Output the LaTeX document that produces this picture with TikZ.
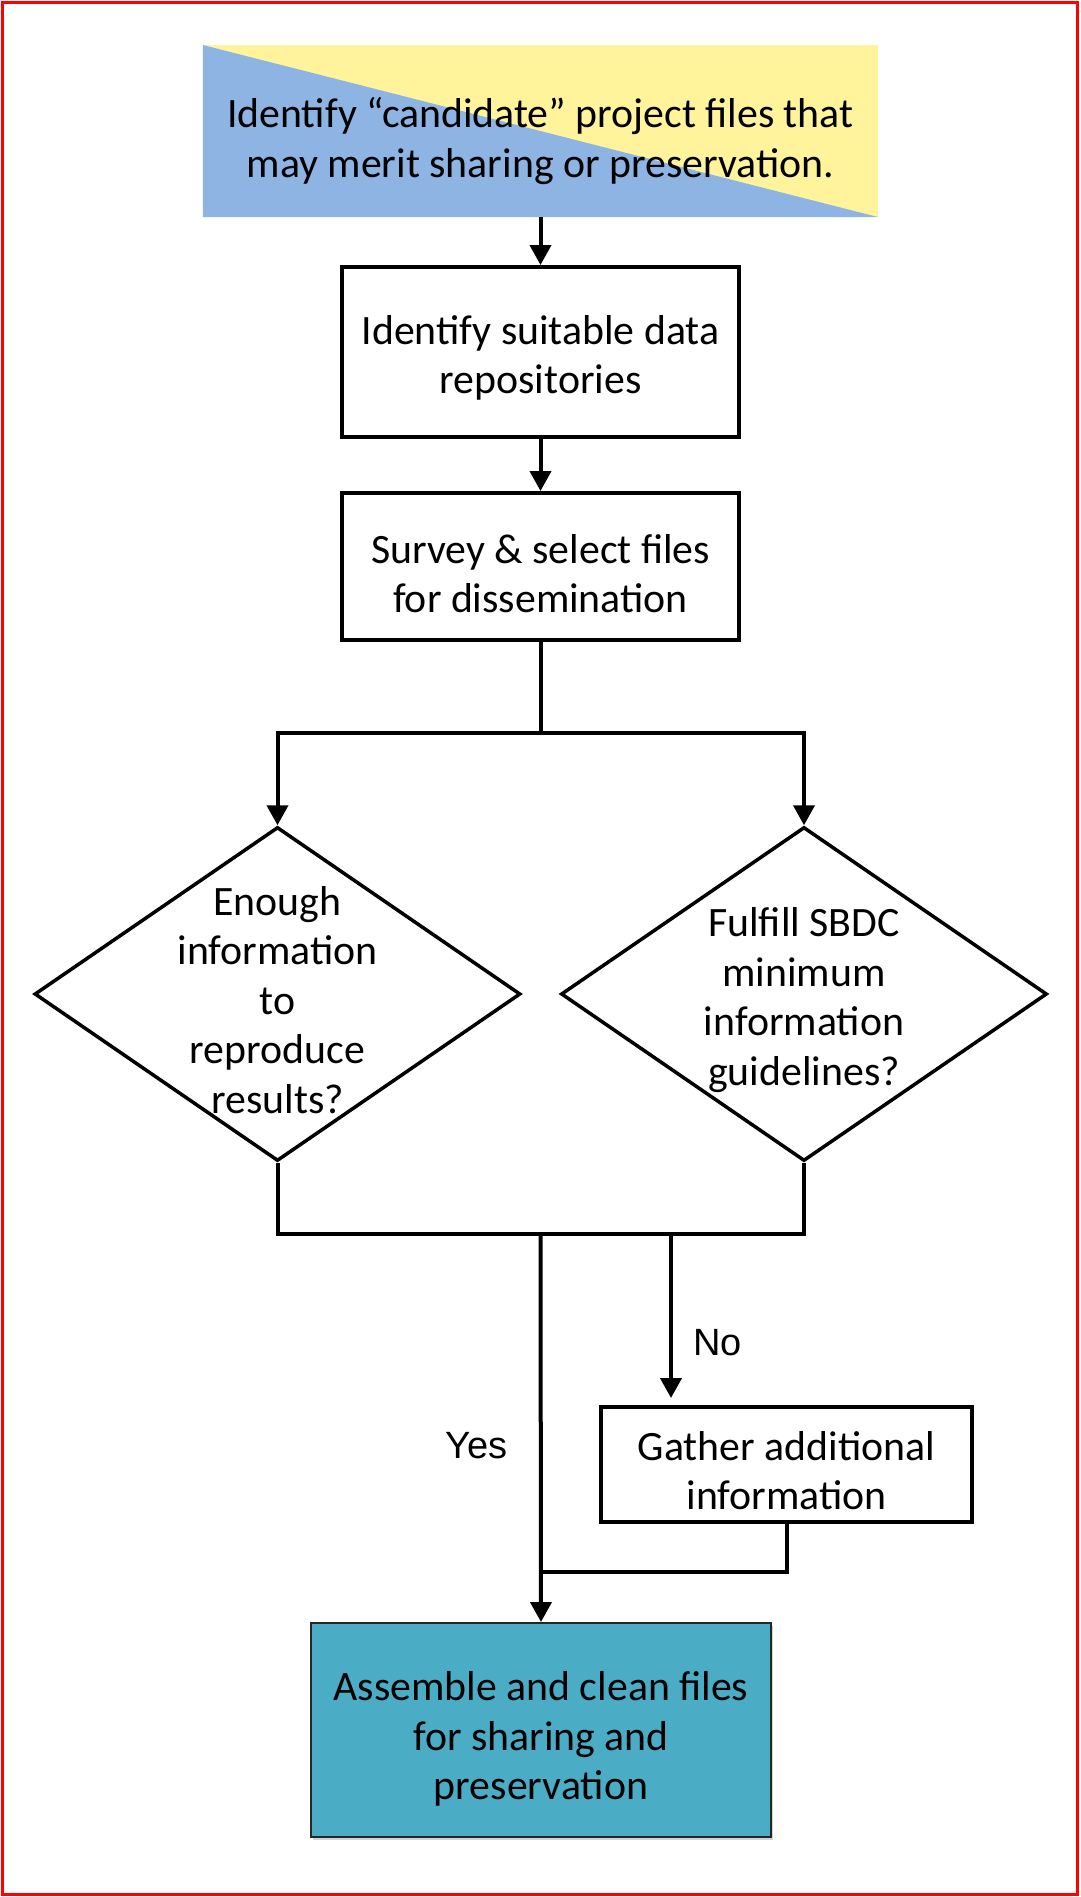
\documentclass[tikz,border=0pt]{standalone}
\usepackage{fontspec}
\setmainfont{Carlito}
\newfontfamily\arialfont{Liberation Sans}
\usetikzlibrary{arrows.meta,shapes.geometric,shadows}
\definecolor{topyellow}{RGB}{255,243,155}
\definecolor{topblue}{RGB}{141,180,226}
\definecolor{asmteal}{RGB}{75,172,198}
\begin{document}
\begin{tikzpicture}[x=1pt,y=-1pt,
  txt/.style={font=\fontsize{41.8}{49.5}\selectfont, align=center, inner sep=0pt},
  box/.style={draw=black, line width=4pt, rectangle, inner sep=0pt},
  dec/.style={draw=black, line width=3.5pt, diamond, inner sep=0pt},
  conn/.style={line width=4pt, draw=black},
  arr/.style={conn, -{Triangle[length=20pt,width=21pt]}},
  lab/.style={font=\arialfont\fontsize{38}{44}\selectfont}
]
\useasboundingbox (0,0) rectangle (1080,1897);
\draw[red, line width=3pt] (2.5,2.5) rectangle (1077.5,1894.5);

\node[minimum width=675pt, minimum height=172pt, inner sep=0pt,
  path picture={
    \fill[topyellow] (path picture bounding box.south west) rectangle (path picture bounding box.north east);
    \fill[topblue] (path picture bounding box.north west) -- (path picture bounding box.south west) -- (path picture bounding box.south east) -- cycle;
  }] (top) at (540.3,131) {};
\node[txt] (topt) at ([yshift=-10pt]top.center) {Identify “candidate” project files that\\may merit sharing or preservation.};

\node[box, minimum width=397pt, minimum height=170pt] (b2) at (540.5,352) {};
\node[txt] (b2t) at ([yshift=-6pt]b2.center) {Identify suitable data\\repositories};
\node[box, minimum width=397pt, minimum height=147pt] (b3) at (540.5,566.5) {};
\node[txt] (b3t) at ([yshift=-7pt]b3.center) {Survey \& select files\\for dissemination};

\node[dec, minimum width=486pt, minimum height=334pt] (d1) at (277.5,994) {};
\node[txt] (d1t) at (277.5,1000) {Enough\\information\\to\\reproduce\\results?};
\node[dec, minimum width=486pt, minimum height=334pt] (d2) at (804,994) {};
\node[txt] (d2t) at (804,1000) {Fulfill SBDC\\minimum\\information\\guidelines?};

\node[box, minimum width=371pt, minimum height=115pt] (gather) at (786.5,1464.5) {};
\node[txt] (gathert) at ([yshift=-6pt]gather.center) {Gather additional\\information};

\node[rectangle, inner sep=0pt, minimum width=460pt, minimum height=214pt,
  fill=asmteal, draw=black!85, line width=2pt,
  drop shadow={shadow xshift=2pt, shadow yshift=-3pt, opacity=0.35}] (bot) at (541,1730) {};
\node[txt] (bott) at ([yshift=-9pt]bot.center) {Assemble and clean files\\for sharing and\\preservation};

\coordinate (fork) at (540.5,733);
\coordinate (join) at (540.5,1234);
\coordinate (nojoin) at (671,1234);
\coordinate (merge) at (540.5,1572);

\draw[arr] (top.south -| b2.north) -- (b2.north);
\draw[arr] (b2.south) -- (b3.north);
\draw[conn] (b3.south) -- (fork);
\draw[arr] (fork) -| (d1.north);
\draw[arr] (fork) -| (d2.north);
\draw[conn] (d1.south) |- (join) -| (d2.south);
\draw[arr] (join) -- (bot.north);
\draw[arr, shorten >=7pt] (nojoin) -- (nojoin |- gather.north);
\draw[conn] (gather.south) |- (merge);

\node[lab, anchor=base] (yes) at (476.5,1458) {Yes};
\node[lab, anchor=base] (no) at (717.5,1355) {No};
\end{tikzpicture}
\end{document}
